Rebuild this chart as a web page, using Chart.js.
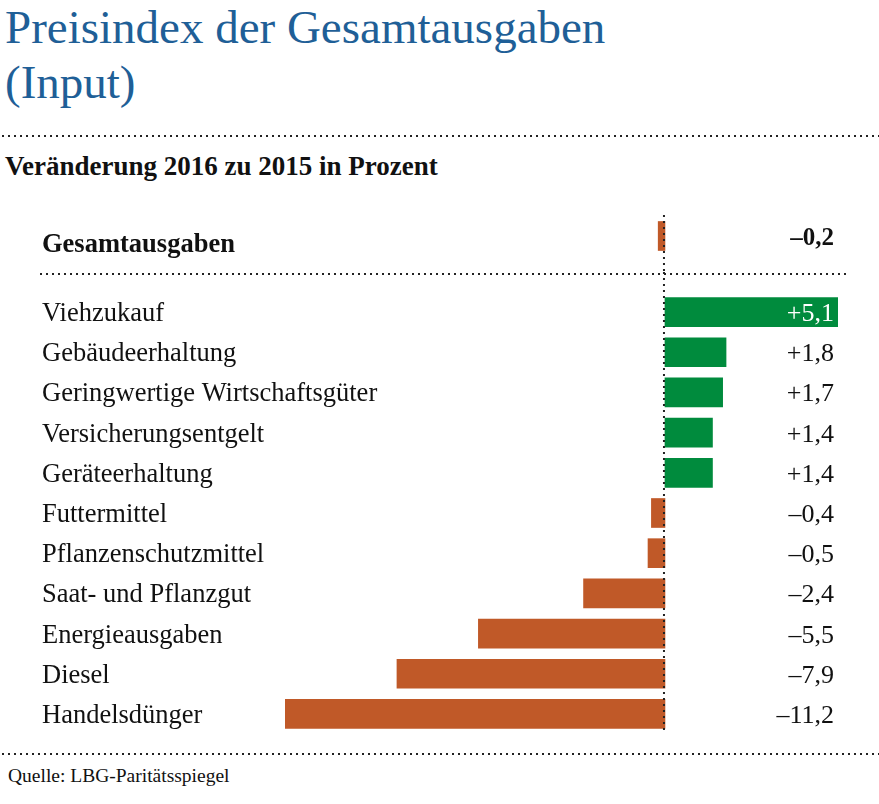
<!DOCTYPE html>
<html lang="de">
<head>
<meta charset="utf-8">
<title>Preisindex der Gesamtausgaben (Input)</title>
<script src="https://cdn.jsdelivr.net/npm/chart.js@4"></script>
<style>
  html, body { margin: 0; padding: 0; background: #fff; }
  body { width: 879px; height: 804px; position: relative; overflow: hidden; font-family: "Liberation Serif", "DejaVu Serif", serif; color: #111; }
  #title { position: absolute; left: 5px; top: 0; font-size: 47px; line-height: 55px; color: #1f5f97; white-space: nowrap; }
  #subtitle { position: absolute; left: 5px; top: 151px; font-size: 27px; line-height: 30px; font-weight: bold; white-space: nowrap; }
  #source { position: absolute; left: 8px; top: 765px; font-size: 19.5px; line-height: 22px; white-space: nowrap; }
  .dots { position: absolute; height: 2px; background: repeating-linear-gradient(to right, #222 0 2px, transparent 2px 6px); }
  .chart-box { position: absolute; left: 0; width: 879px; }
</style>
</head>
<body>
<div id="title">Preisindex der Gesamtausgaben<br>(Input)</div>
<div class="dots" style="left:2px; right:0; top:135px;"></div>
<div id="subtitle">Veränderung 2016 zu 2015 in Prozent</div>

<div class="chart-box" style="top:212px; height:60px;"><canvas id="totalChart"></canvas></div>
<div class="dots" style="left:40px; width:806px; top:273px;"></div>
<div class="chart-box" style="top:272px; height:462px;"><canvas id="itemChart"></canvas></div>

<div class="dots" style="left:2px; right:0; top:753px;"></div>
<div id="source">Quelle: LBG-Paritätsspiegel</div>

<script>
// ---- data ----
const totalLabels = ["Gesamtausgaben"];
const totalValues = [-0.2];

const itemLabels = [
  "Viehzukauf",
  "Gebäudeerhaltung",
  "Geringwertige Wirtschaftsgüter",
  "Versicherungsentgelt",
  "Geräteerhaltung",
  "Futtermittel",
  "Pflanzenschutzmittel",
  "Saat- und Pflanzgut",
  "Energieausgaben",
  "Diesel",
  "Handelsdünger",
];
const itemValues = [5.1, 1.8, 1.7, 1.4, 1.4, -0.4, -0.5, -2.4, -5.5, -7.9, -11.2];

const GREEN = "#008b3d";
const RUST = "#c05928";
const FONT = '"Liberation Serif", "DejaVu Serif", serif';

function fmtValue(v) {
  const s = Math.abs(v).toFixed(1).replace(".", ",");
  return (v > 0 ? "+" : "\u2013") + s;
}

// row labels on the left, values on the right, dotted zero line
const rowTextPlugin = {
  id: "rowText",
  afterDatasetsDraw(chart, args, opts) {
    const { ctx, chartArea } = chart;
    const xs = chart.scales.x;
    const ys = chart.scales.y;
    const values = chart.data.datasets[0].data;
    const x0 = xs.getPixelForValue(0);

    // zero line
    ctx.save();
    ctx.strokeStyle = "#222";
    ctx.lineWidth = 2;
    ctx.setLineDash([2, 4]);
    ctx.beginPath();
    ctx.moveTo(x0 - 1, opts.lineTop);
    ctx.lineTo(x0 - 1, opts.lineBottom === "area" ? chartArea.bottom : chart.height);
    ctx.stroke();
    ctx.restore();

    ctx.save();
    chart.data.labels.forEach((label, i) => {
      const y = ys.getPixelForValue(i);
      ctx.font = `${opts.weight} ${opts.size}px ${FONT}`;
      ctx.fillStyle = "#111";
      ctx.textAlign = "left";
      ctx.textBaseline = "alphabetic";
      ctx.fillText(label, 42, y + opts.labelDy);

      ctx.font = `${opts.weight} ${opts.valueSize}px ${FONT}`;
      const txt = fmtValue(values[i]);
      const w = ctx.measureText(txt).width;
      const barEnd = xs.getPixelForValue(values[i]);
      ctx.fillStyle = values[i] > 0 && barEnd > 833 - w ? "#fff" : "#111";
      ctx.textAlign = "right";
      ctx.fillText(txt, 834, y + opts.valueDy);
    });
    ctx.restore();
  },
};

function makeChart(id, labels, values, padding, textOpts) {
  return new Chart(document.getElementById(id), {
    type: "bar",
    data: {
      labels,
      datasets: [{
        data: values,
        backgroundColor: values.map(v => (v >= 0 ? GREEN : RUST)),
        barThickness: 29,
        borderWidth: 0,
      }],
    },
    options: {
      indexAxis: "y",
      responsive: true,
      maintainAspectRatio: false,
      animation: false,
      layout: { padding },
      scales: {
        x: { display: false, min: -11.2, max: 5.1 },
        y: { display: false },
      },
      plugins: {
        legend: { display: false },
        tooltip: { enabled: false },
        rowText: textOpts,
      },
    },
    plugins: [rowTextPlugin],
  });
}

makeChart("totalChart", totalLabels, totalValues,
  { left: 285, right: 41, top: 0, bottom: 12 },
  { weight: "bold", size: 26.5, valueSize: 25, labelDy: 16, valueDy: 9, lineTop: 3, lineBottom: "canvas" });

makeChart("itemChart", itemLabels, itemValues,
  { left: 285, right: 41, top: 20, bottom: 0 },
  { weight: "normal", size: 26.5, valueSize: 26, labelDy: 9, valueDy: 9, lineTop: 0, lineBottom: "area" });
</script>
</body>
</html>
